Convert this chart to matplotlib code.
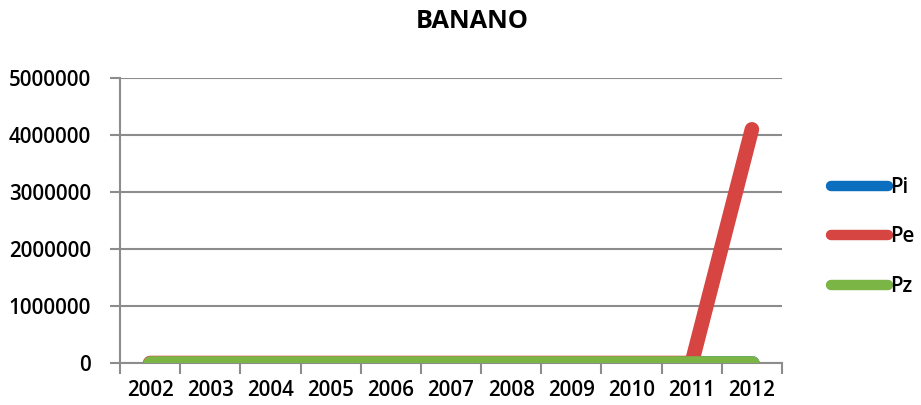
import matplotlib
matplotlib.use("Agg")
import matplotlib.pyplot as plt

years = ["2002", "2003", "2004", "2005", "2006", "2007", "2008", "2009", "2010", "2011", "2012"]
pi_vals = [0, 0, 0, 0, 0, 0, 0, 0, 0, 0, 0]
pe_vals = [0, 0, 0, 0, 0, 0, 0, 0, 0, 0, 4100000]
pz_vals = [0, 0, 0, 0, 0, 0, 0, 0, 0, 0, 0]
series_names = ["Pi", "Pe", "Pz"]
colors = ["#0B6EBF", "#D64541", "#7AB545"]

plt.rcParams['font.family'] = ['Open Sans', 'DejaVu Sans']

fig = plt.figure(figsize=(9.21, 4.05), dpi=100)
ax = fig.add_axes([120/921, 1-363/405, (782-120)/921, (363-78)/405])

x = list(range(len(years)))
handles = []
for vals, name, c in zip([pi_vals, pe_vals, pz_vals], series_names, colors):
    h, = ax.plot(x, vals, color=c, lw=10.5, solid_capstyle='round',
                 solid_joinstyle='round', label=name, clip_on=True, zorder=3)
    handles.append(h)

ax.set_xlim(-0.5, len(years) - 0.5)
ax.set_ylim(0, 5000000)
ax.set_yticks(range(0, 5000001, 1000000))
ax.set_yticklabels([str(v) for v in range(0, 5000001, 1000000)])
ax.yaxis.grid(True, color="#8c8c8c", lw=1.5)
ax.set_axisbelow(True)

ax.set_xticks([i - 0.5 for i in range(len(years) + 1)])
ax.set_xticklabels([])
ax.set_xticks(x, minor=True)
ax.set_xticklabels(years, minor=True)
ax.tick_params(axis='x', which='major', length=8, width=1.5, color="#8c8c8c", direction='out')
ax.tick_params(axis='x', which='minor', length=0, pad=12, labelsize=14.8)
ax.tick_params(axis='y', length=7, width=1.5, color="#8c8c8c", pad=14, labelsize=14.8)
for lab in ax.get_xticklabels(minor=True) + ax.get_yticklabels():
    lab.set_fontweight('semibold')

for s in ['top', 'right']:
    ax.spines[s].set_visible(False)
for s in ['left', 'bottom']:
    ax.spines[s].set_color("#8c8c8c")
    ax.spines[s].set_linewidth(1.5)
    ax.spines[s].set_zorder(2)

fig.text(472/921, 1-22/405, "BANANO", ha='center', va='center', fontsize=18.3, fontweight='bold')

leg = fig.legend(handles=handles, loc='center left', bbox_to_anchor=(823/921, 1-237/405),
                 frameon=False, handlelength=2.75, handletextpad=0.12,
                 labelspacing=1.4, borderaxespad=0,
                 prop={'family': ['Open Sans', 'DejaVu Sans'], 'size': 14.8, 'weight': 'semibold'})
for line in leg.get_lines():
    line.set_linewidth(7.5)

fig.savefig("out.png", dpi=100)
